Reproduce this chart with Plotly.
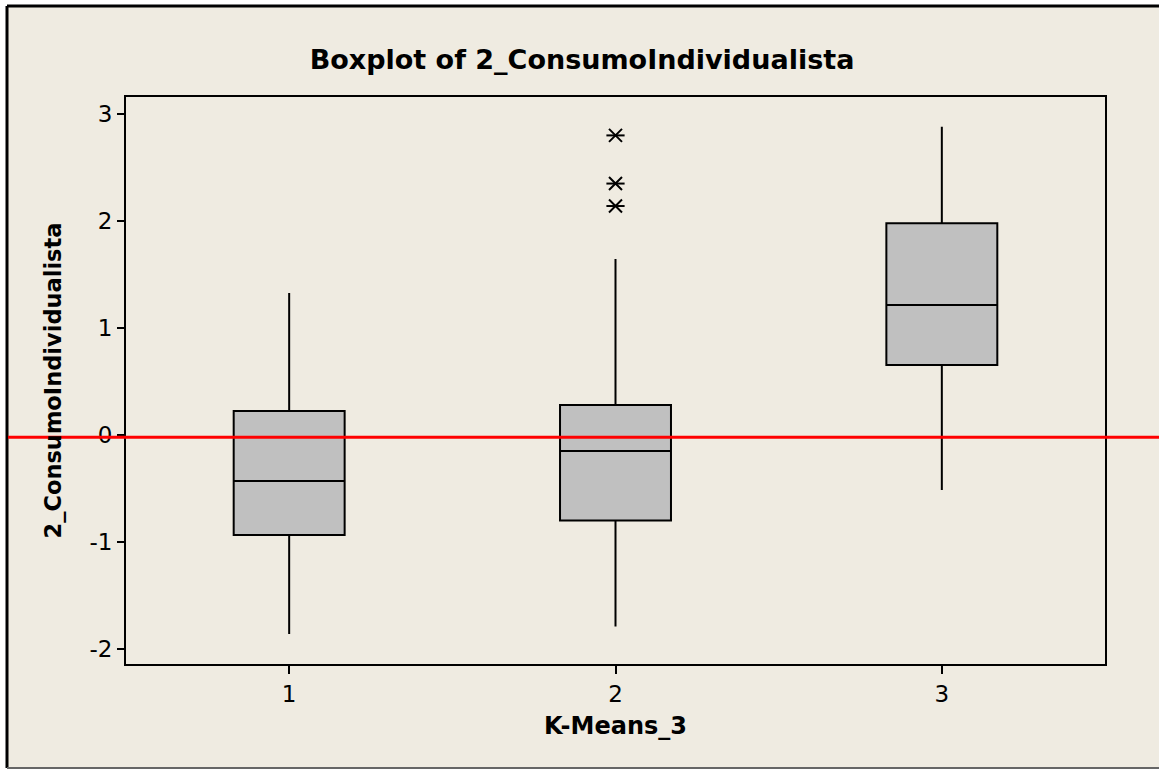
import plotly.graph_objects as go

# Data
groups = [1, 2, 3]
q1 = [-0.935, -0.80, 0.654]
median = [-0.43, -0.15, 1.215]
q3 = [0.224, 0.28, 1.98]
lower = [-1.86, -1.79, -0.514]
upper = [1.327, 1.645, 2.88]
outlier_x = [2, 2, 2]
outlier_y = [2.80, 2.35, 2.14]
ref_value = -0.02
y_ticks = [-2, -1, 0, 1, 2, 3]
y_ticklabels = ["-2", "-1", "0", "1", "2", "3"]

title_text = "Boxplot of 2_ConsumoIndividualista"
x_title = "K-Means_3"
y_title = "2_ConsumoIndividualista"

FONT = "DejaVu Sans"
BEIGE = "#EFEBE1"

fig = go.Figure()
fig.add_trace(go.Box(
    x=groups, q1=q1, median=median, q3=q3,
    lowerfence=lower, upperfence=upper,
    width=0.34, whiskerwidth=0,
    fillcolor="#C0C0C0", line=dict(color="black", width=2),
    boxpoints=False, showlegend=False, hoverinfo="y",
))
# asterisk outliers: x plus horizontal bar (6-armed)
for sym in ["x-thin-open", "line-ew-open"]:
    fig.add_trace(go.Scatter(
        x=outlier_x, y=outlier_y, mode="markers", showlegend=False,
        marker=dict(symbol=sym, size=13, color="black",
                    line=dict(color="black", width=2)),
    ))

W, H = 1159, 769
L, R, T, B = 126, 1105, 97, 664
pw, ph = R - L, B - T

def px(x):
    return (x - L) / pw

def py(y):
    return (B - y) / ph

# beige panel with border
fig.add_shape(type="rect", xref="paper", yref="paper",
              x0=px(7), x1=px(1165), y0=py(768), y1=py(6),
              fillcolor=BEIGE, line=dict(width=0), layer="below")
fig.add_shape(type="line", xref="paper", yref="paper",
              x0=px(7), x1=px(7), y0=py(768), y1=py(6),
              line=dict(color="black", width=3))
fig.add_shape(type="line", xref="paper", yref="paper",
              x0=px(7), x1=px(1165), y0=py(6), y1=py(6),
              line=dict(color="black", width=3))
fig.add_shape(type="line", xref="paper", yref="paper",
              x0=px(7), x1=px(1165), y0=py(768), y1=py(768),
              line=dict(color="#666666", width=2))

# red reference line across the whole width
fig.add_shape(type="line", xref="paper", yref="y",
              x0=px(8), x1=px(1165), y0=ref_value, y1=ref_value,
              line=dict(color="#FF0000", width=3), layer="above")

fig.update_layout(
    width=W, height=H,
    margin=dict(l=L, r=W - R, t=T, b=H - B, pad=0),
    paper_bgcolor="white", plot_bgcolor="white",
    font=dict(family=FONT, color="black", size=20),
    title=dict(text="<b>" + title_text + "</b>", x=582 / W,
               xanchor="center", y=1 - 60 / H, yanchor="middle",
               font=dict(family=FONT, size=27, color="black")),
)
fig.update_xaxes(
    range=[0.5, 3.5], tickvals=groups, ticktext=[str(g) for g in groups],
    showgrid=False, zeroline=False, showline=True, mirror=True,
    linecolor="black", linewidth=2, ticks="outside", ticklen=8,
    tickcolor="black", tickwidth=2,
    tickfont=dict(size=23, family=FONT),
    title=dict(text="<b>" + x_title + "</b>", standoff=12,
               font=dict(size=24, family=FONT)),
)
fig.update_yaxes(
    range=[-2.14, 3.159], tickvals=y_ticks, ticktext=y_ticklabels,
    showgrid=False, zeroline=False, showline=True, mirror=True,
    linecolor="black", linewidth=2, ticks="outside", ticklen=7,
    tickcolor="black", tickwidth=2,
    tickfont=dict(size=23, family=FONT),
    title=dict(text="<b>" + y_title + "</b>", standoff=22,
               font=dict(size=22.5, family=FONT)),
)

fig.write_html("out.html")
